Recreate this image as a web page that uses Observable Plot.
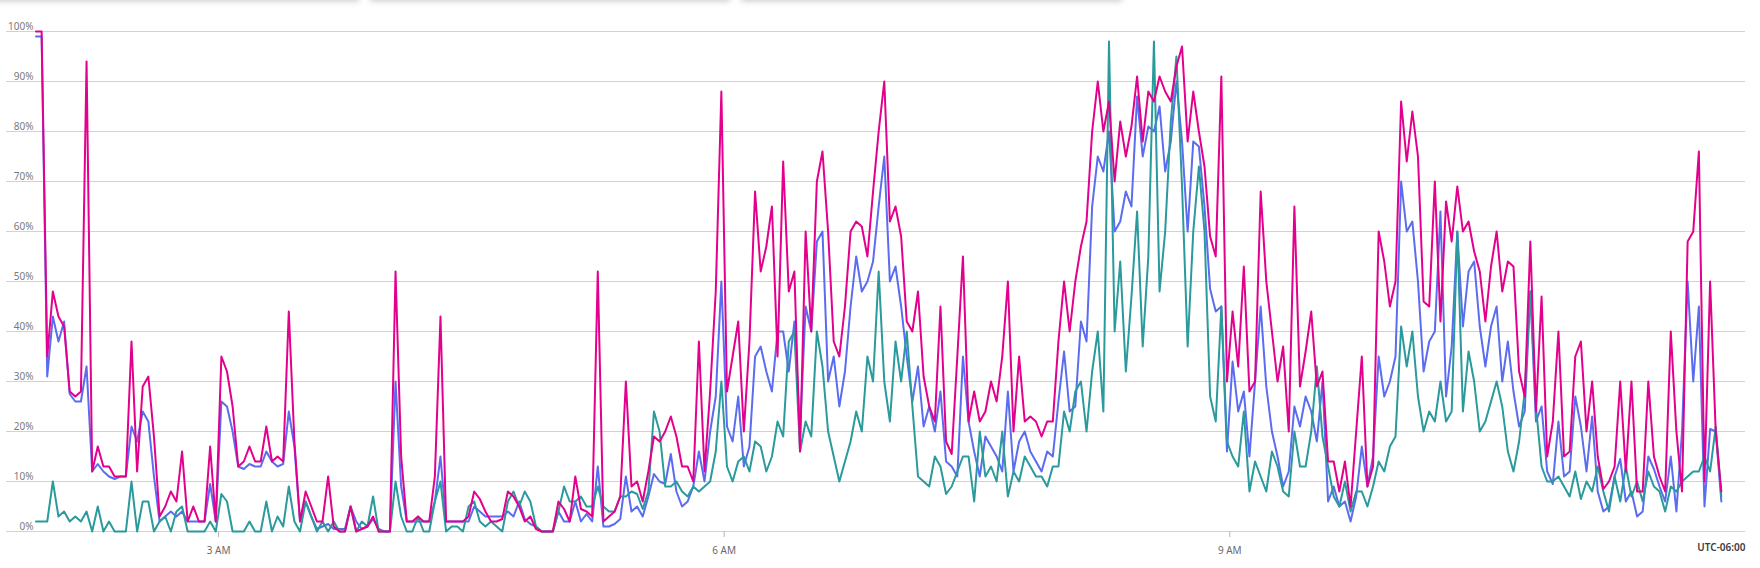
<!DOCTYPE html>
<html>
<head>
<meta charset="utf-8">
<script src="https://cdn.jsdelivr.net/npm/d3@7"></script>
<script src="https://cdn.jsdelivr.net/npm/@observablehq/plot@0.6"></script>
<style>
  html, body { margin: 0; padding: 0; background: #fff; }
  #wrap { position: relative; width: 1760px; height: 568px; overflow: hidden; font-family: "Segoe UI", "Noto Sans", "Open Sans", sans-serif; }
  .tabshadow { position: absolute; top: -12px; height: 12px; background: #fff; box-shadow: 0 1px 6px rgba(0,0,0,0.22); }
</style>
</head>
<body>
<div id="wrap">
  <div class="tabshadow" style="left:-10px;width:369px"></div>
  <div class="tabshadow" style="left:370px;width:360px"></div>
  <div class="tabshadow" style="left:741px;width:381px"></div>
  <div id="chart"></div>
</div>
<script>
// Time axis: minutes since midnight (local UTC-06:00), one sample every 2 minutes from 1:55 AM
const startMinute = 115;
const stepMinutes = 2;

const seriesNames = ["series A", "series B", "series C"];
const seriesColors = ["#e3008c", "#5b6cf0", "#2a9a9c"];

const pinkValues = [
  100,100,35,48,43,41,28,27,28,94,
  12,17,13,13,11,11,11,38,12,29,
  31,19,3,5,8,6,16,2,5,2,
  2,17,2,35,32,25,13,14,17,14,
  14,21,14,15,14,44,18,2,8,5,
  2,2,11,1,0,0,5,0,0.5,1,
  3,0,0,0,52,15,2,2,3,2,
  2,11,43,2,2,2,2,3,8,6.5,
  4,2,2,2.5,8,7,5,2,3,0.5,
  0,0,0,6,4.5,2,11,4.5,4,3,
  52,2,3,4,7,30,9,10,6,12,
  19,18,20,23,19,13,13,10,38,12,
  28,48,88,28,35,42,20,38,68,52,
  57,65,35,74,48,52,16,60,40,70,
  76,60,38,35,45,60,62,61,55,68,
  80,90,62,65,59,42,40,48,31,25,
  22,45,18,15.5,35,55,22,28,22,24,
  30,26,35,50,20,35,22,23,22,19,
  22,22,38,50,40,50,57,62,80,90,
  80,86,70,82,75,81,91,78,88,86,
  91,88,86,93,97,78,88,80,73,59,
  55,91,30,44,33,53,28,30,68,50,
  40,30,37,20,65,29,36,44,29,32,
  14,14,8,14,5,20,35,9,13,60,
  54,45,50,86,74,84,75,46,45,70,
  42,66,58,69,60,62,56,52,42,53,
  60,48,54,53,32,27,58,24,47,15,
  22,40,15,16,35,38,20,30,15,8.5,
  10,13,30,12,30,8,8,30,15,11,
  8,40,20,8,58,60,76,10,50,20,
  8
];

const blueValues = [
  99,99,31,43,38,42,27.5,26,26,33,
  12,13.5,12,11,10.5,11,11,21,18,24,
  22,11,2,3,4,3,4,2,2,2,
  2,9.5,2,26,25,20,13,12.5,13.5,13,
  13,16,14,13,13.5,24,17,2,6,3,
  0.5,1,1.5,0.5,0.5,0.5,5,2,0.5,1,
  2.5,0.5,0,0,30,9,2,2,2,2,
  2,6,15,2,2,2,2,2,5,4,
  3,3,3,3,4,3,6,2.5,1.5,1,
  0,0,0,4,2,2,6,2,3.5,2,
  13,1,1,1.5,2.5,11,4,5,3,7,
  11.5,10,9.5,15.5,8,5,6,9,16,10,
  20,27,50,21,18,27,13,17,35,37,
  32,28,40,40,32,42,20,45,40,58,
  60,30,35,25,32,45,55,48,50,54,
  65,75,50,53,45,35,26,33,21,25,
  20,28,14,13,11,35,22,16,11,19,
  17,15,12,28,12,18,20,16,14,12,
  16,15,26,36,24,25,42,38,65,75,
  72,80,60,62,68,65,87,75,81,80,
  85,72,78,90,78,60,78,77,65,48.5,
  44,45,16,34,24,28,15,30,45,29,
  20,15,9,12,25,21,27,24,18,30,
  6,9,5,6,2,7,17,9,15,35,
  27,30,35,70,60,62,50,32,38,40,
  64,27,37,60,41,52,54,41,33,41,
  45,30,38,28,21,24,48,22,25,12,
  9.5,22,11,12,27,21,12,23,8,4,
  5,11,14.5,6,8,3,4,15,12.5,9,
  6,15,4,20,50,30,45,5,20.5,20,
  6
];

const tealValues = [
  2,2,2,10,3,4,2,3,2,4,
  0,5,0,2,0,0,0,10,0,6,
  6,0,2,3,0,4,5,0,0,0,
  0,2,0,7.5,6,0,0,0,2,0,
  0,6,0,3,1,9,2,0,6,3,
  0,2,0,2,0,0,5,0,2,1,
  7,0,0,0,10,3,0,0,3,0,
  0,6,10,0,1,1,0,5,6,2,
  1,2,1,0,6,8,5,8,6,1,
  0,0,0,4,9,6,6,7,5,5,
  9,5,4,4,7,7,8,7.5,4.5,8,
  24,20,9,9,10,8,7,9,8,9,
  10,16,30,13,10,14,15,12,18,17,
  12,15,22,19,38,40,16,22,19,40,
  33,20,15,10,14,18,24,20,35,30,
  52,30,22,38,30,40,25,11,10,9,
  15,13,7.5,9,12,15,15,6,20,11,
  13,10,20,7,12,10,15,13,11,11,
  9,13,13,24,20,28,30,20,32,40,
  24,98,40,54,32,47,64,37,55,98,
  48,60,82,95,69,37,60,73,60,27,
  22,45,18,15,13,24,8,14,11,8,
  16,13,8,7,20,13,13,20,33,19,
  13,7,5,10,4,8,8,5,9,14,
  12,17,19,41,33,40,27,20,24,22,
  30,22,24,60,24,36,30,20,22,26,
  30,25,16,12,18,28,48,25,13,10,
  10,11,9,7,12,6.5,10,8,13,8,
  4,11,6,13,7,10,6,12,9,8,
  4,9,8,10,11,12,12,15,12,21,
  7
];

const yTicks = [0,10,20,30,40,50,60,70,80,90,100];
const xTickMinutes = [180, 360, 540];
const xTickLabels = ["3 AM", "6 AM", "9 AM"];
const timezoneLabel = "UTC-06:00";

const allValues = [pinkValues, blueValues, tealValues];
const rows = [];
allValues.forEach((vals, s) => {
  vals.forEach((v, i) => rows.push({series: seriesNames[s], t: startMinute + i * stepMinutes, v}));
});

// draw order: blue, teal, pink (pink on top)
const drawOrder = [1, 2, 0];

const chart = Plot.plot({
  width: 1760,
  height: 568,
  marginLeft: 6,
  marginRight: 15,
  marginTop: 31,
  marginBottom: 37,
  style: {fontFamily: '"Segoe UI", "Noto Sans", "Open Sans", sans-serif', background: "transparent"},
  x: {type: "linear", domain: [104.5, 723.6], label: null},
  y: {domain: [0, 100], label: null},
  marks: [
    Plot.gridY(yTicks, {stroke: "#d2d2d2", strokeOpacity: 1, strokeWidth: 1}),
    Plot.axisY(yTicks, {anchor: "left", tickSize: 0, tickPadding: 0, dx: 27, dy: -5, label: null,
      tickFormat: d => d + "%", fill: "#7a7a7a", fontSize: 10, textAnchor: "end"}),
    Plot.axisX(xTickMinutes, {tickSize: 6, tickPadding: 9, stroke: "#b5b5b5", label: null,
      tickFormat: d => xTickLabels[xTickMinutes.indexOf(d)], fill: "#6a6a6a", fontSize: 10}),
    Plot.text([timezoneLabel], {frameAnchor: "bottom-right", dy: 19, textAnchor: "end",
      fill: "#3c3c3c", fontSize: 10, fontWeight: 600}),
    ...drawOrder.map(s => Plot.lineY(rows.filter(r => r.series === seriesNames[s]), {
      x: "t", y: "v", stroke: seriesColors[s], strokeWidth: 2, strokeLinejoin: "round", curve: "linear"
    }))
  ]
});
document.getElementById("chart").appendChild(chart);
</script>
</body>
</html>
